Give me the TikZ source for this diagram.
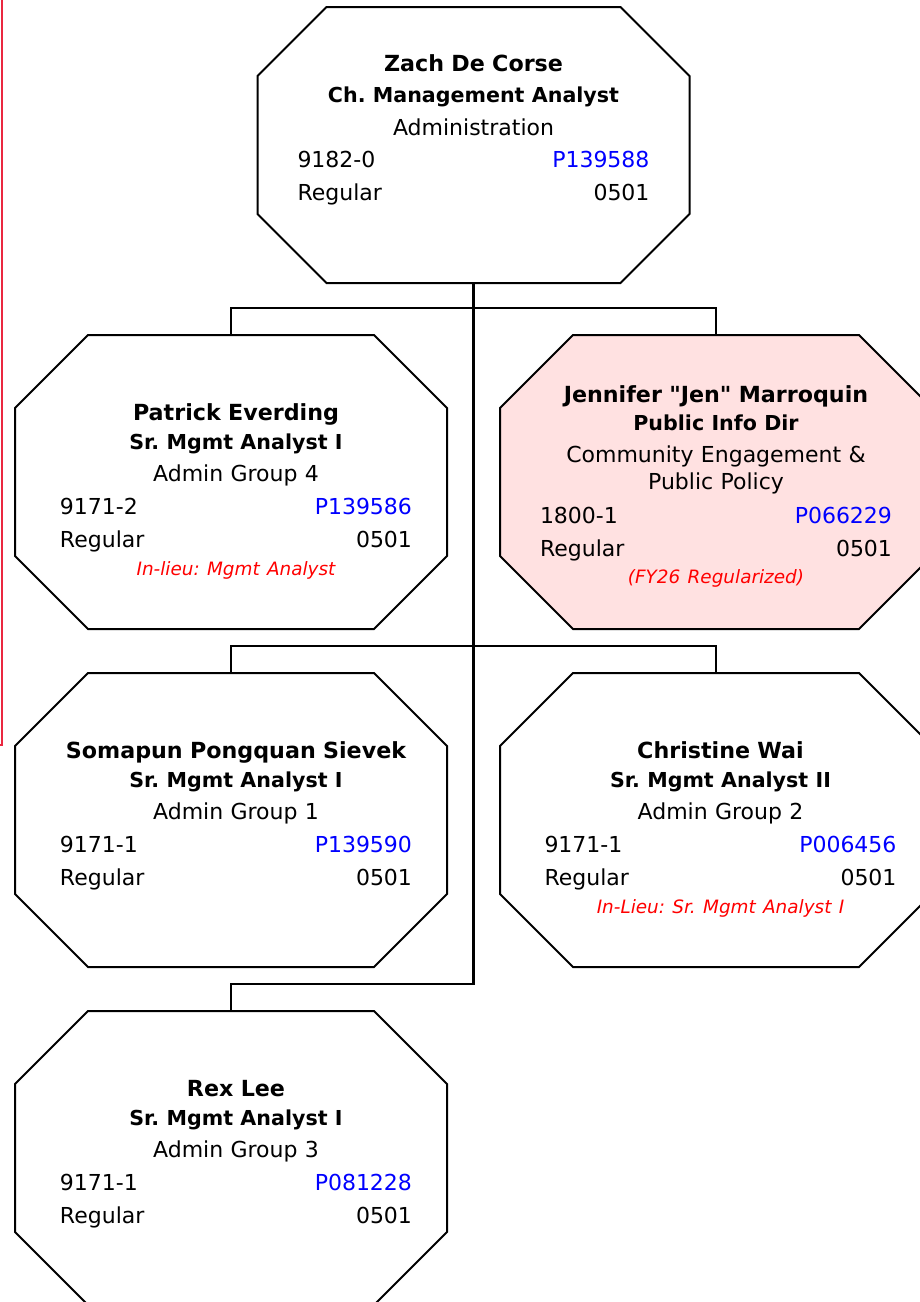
\documentclass[tikz,border=0pt]{standalone}
\usepackage{fontspec}
\setmainfont{DejaVu Sans}
\usetikzlibrary{positioning}
\usetikzlibrary{backgrounds}

\definecolor{jenfill}{RGB}{255,225,225}
\definecolor{edgered}{RGB}{234,40,64}
\newcommand{\nm}[1]{{\fontsize{11.1pt}{16.4pt}\selectfont\bfseries #1}}
\newcommand{\ttl}[1]{{\fontsize{10.3pt}{16.4pt}\selectfont\bfseries #1}}
\newcommand{\staffnote}[1]{{\fontsize{9.2pt}{16.4pt}\selectfont\itshape\color{red}#1}}
\newcommand{\idrow}[2]{\makebox[176pt]{#1\hfill#2}}
\newcommand{\straightq}{\XeTeXglyph\XeTeXcharglyph34\relax}
\frenchspacing

\begin{document}
\begin{tikzpicture}[x=0.5pt,y=0.5pt,
      staff/.style={minimum width=216pt,minimum height=147pt,inner sep=0pt,outer sep=0pt,
        text width=216pt,align=center,text height=0pt,text depth=62pt,
        font=\fontsize{11pt}{16.4pt}\selectfont},
      nudge/.style={execute at begin node={\advance\leftskip by #1\relax}},
      octo/.style={line width=1pt,line join=miter},
      link/.style={line width=1.1pt},
    ]
        \useasboundingbox (0,0) rectangle (920,-1302);
        \draw[edgered,line width=0.8pt] (2,0) -- (2,-745) -- (0,-745);

        \node[staff,minimum height=138pt,text depth=74pt] (zach) at (473.5,-145) {
            \nm{Zach De Corse}\\[-0.8pt]
            \ttl{Ch. Management Analyst}\\
            Administration\\
            \idrow{9182-0}{\textcolor{blue}{P139588}}\\
            \idrow{Regular}{0501}
        };
        \node[staff,nudge=5pt] (patrick) at (231,-482) {
            \nm{Patrick Everding}\\[-1.9pt]
            \ttl{Sr. Mgmt Analyst I}\\
            Admin Group 4\\
            \idrow{9171-2}{\textcolor{blue}{P139586}}\\
            \idrow{Regular}{0501}\\[-2.4pt]
            \staffnote{In-lieu: Mgmt Analyst}
        };
        \node[staff,text depth=80pt,right=26.5pt of patrick] (jennifer) {
            \nm{Jennifer \straightq Jen\straightq{} Marroquin}\\[-2.4pt]
            \ttl{Public Info Dir}\\
            Community Engagement \&\\[-3.1pt]
            Public Policy\\[0.6pt]
            \idrow{1800-1}{\textcolor{blue}{P066229}}\\
            \idrow{Regular}{0501}\\[-2.6pt]
            \staffnote{(FY26 Regularized)}
        };
        \node[staff,nudge=5pt,below=22pt of patrick] (somapun) {
            \nm{Somapun Pongquan Sievek}\\[-1.9pt]
            \ttl{Sr. Mgmt Analyst I}\\
            Admin Group 1\\
            \idrow{9171-1}{\textcolor{blue}{P139590}}\\
            \idrow{Regular}{0501}
        };
        \node[staff,nudge=4.5pt,below=22pt of jennifer] (christine) {
            \nm{Christine Wai}\\[-1.9pt]
            \ttl{Sr. Mgmt Analyst II}\\
            Admin Group 2\\
            \idrow{9171-1}{\textcolor{blue}{P006456}}\\
            \idrow{Regular}{0501}\\[-2.4pt]
            \staffnote{In-Lieu: Sr. Mgmt Analyst I}
        };
        \node[staff,nudge=5pt,below=22pt of somapun] (rex) {
            \nm{Rex Lee}\\[-1.9pt]
            \ttl{Sr. Mgmt Analyst I}\\
            Admin Group 3\\
            \idrow{9171-1}{\textcolor{blue}{P081228}}\\
            \idrow{Regular}{0501}
        };

        \foreach \kid in {patrick,jennifer,somapun,christine,rex}
            \draw[link] (zach.south) |- ([yshift=13.5pt]\kid.north) -- (\kid.north);

        \begin{scope}[on background layer]
            \foreach \n/\c/\f in {zach/34.5pt/white,patrick/36.5pt/white,jennifer/36.5pt/jenfill,
                somapun/36.5pt/white,christine/36.5pt/white,rex/36.5pt/white}
                \draw[octo,fill=\f] ([xshift=\c]\n.north west) -- ([xshift=-\c]\n.north east)
                    -- ([yshift=-\c]\n.north east) -- ([yshift=\c]\n.south east)
                    -- ([xshift=-\c]\n.south east) -- ([xshift=\c]\n.south west)
                    -- ([yshift=\c]\n.south west) -- ([yshift=-\c]\n.north west) -- cycle;
        \end{scope}
    \end{tikzpicture}
\end{document}
